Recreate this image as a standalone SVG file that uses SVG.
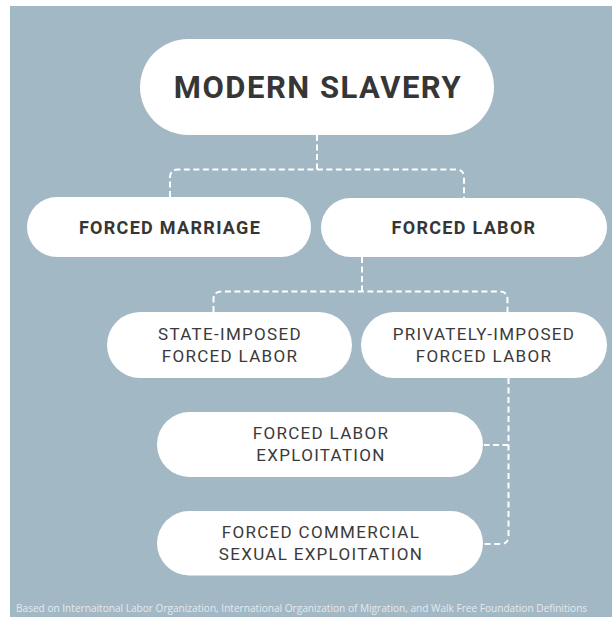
<svg xmlns="http://www.w3.org/2000/svg" width="612" height="617" viewBox="0 0 612 617">
<style>
.pill{fill:#ffffff}
.tb{font-family:Roboto,"Liberation Sans",sans-serif;font-weight:bold;fill:#363636;text-anchor:middle}
.tr{font-family:Roboto,"Liberation Sans",sans-serif;font-weight:normal;fill:#3a3a3a;text-anchor:middle;font-size:17px;letter-spacing:1.3px}
.conn{fill:none;stroke:#ffffff;stroke-width:2;stroke-dasharray:6 3.5}
.foot{font-family:"Open Sans","Liberation Sans",sans-serif;font-size:10.1px;fill:#e4eaee}
</style>
<rect x="0" y="0" width="612" height="617" fill="#ffffff"/>
<rect x="10" y="6" width="602" height="611" fill="#a3b8c5"/>
<g id="connectors">
<path class="conn" d="M317 135 V169.5"/>
<path class="conn" d="M170 197 V177.5 Q170 169.5 178 169.5 H456 Q464 169.5 464 177.5 V198"/>
<path class="conn" d="M362 257 V291.5"/>
<path class="conn" d="M213.5 312 V299.5 Q213.5 291.5 221.5 291.5 H499.5 Q507.5 291.5 507.5 299.5 V312"/>
<path class="conn" d="M508.5 378 V536 Q508.5 544 500.5 544 H484"/>
<path class="conn" d="M508.5 445 H484"/>
</g>
<g id="node-modern-slavery">
<rect class="pill" x="140" y="39" width="354" height="96" rx="48"/>
<text class="tb" x="318" y="98" font-size="31" letter-spacing="1.5">MODERN SLAVERY</text>
</g>
<g id="node-forced-marriage">
<rect class="pill" x="27" y="197" width="284" height="60" rx="30"/>
<text class="tb" x="170" y="233.5" font-size="18" letter-spacing="1.3">FORCED MARRIAGE</text>
</g>
<g id="node-forced-labor">
<rect class="pill" x="321" y="198" width="286" height="59" rx="29.5"/>
<text class="tb" x="464" y="233.5" font-size="18" letter-spacing="1.3">FORCED LABOR</text>
</g>
<g id="node-state-imposed">
<rect class="pill" x="107" y="312" width="245" height="66" rx="33"/>
<text class="tr" x="230" y="340">STATE-IMPOSED</text>
<text class="tr" x="230" y="362">FORCED LABOR</text>
</g>
<g id="node-privately-imposed">
<rect class="pill" x="361" y="312" width="246" height="66" rx="33"/>
<text class="tr" x="484" y="340">PRIVATELY-IMPOSED</text>
<text class="tr" x="484" y="362">FORCED LABOR</text>
</g>
<g id="node-forced-labor-exploitation">
<rect class="pill" x="157" y="412" width="326" height="65" rx="32.5"/>
<text class="tr" x="321" y="439">FORCED LABOR</text>
<text class="tr" x="321" y="460.5">EXPLOITATION</text>
</g>
<g id="node-forced-commercial">
<rect class="pill" x="157" y="511" width="326" height="64.5" rx="32.25"/>
<text class="tr" x="321" y="538">FORCED COMMERCIAL</text>
<text class="tr" x="321" y="560">SEXUAL EXPLOITATION</text>
</g>
<text class="foot" x="16" y="612">Based on Internaitonal Labor Organization, International Organization of Migration, and Walk Free Foundation Definitions</text>
</svg>
